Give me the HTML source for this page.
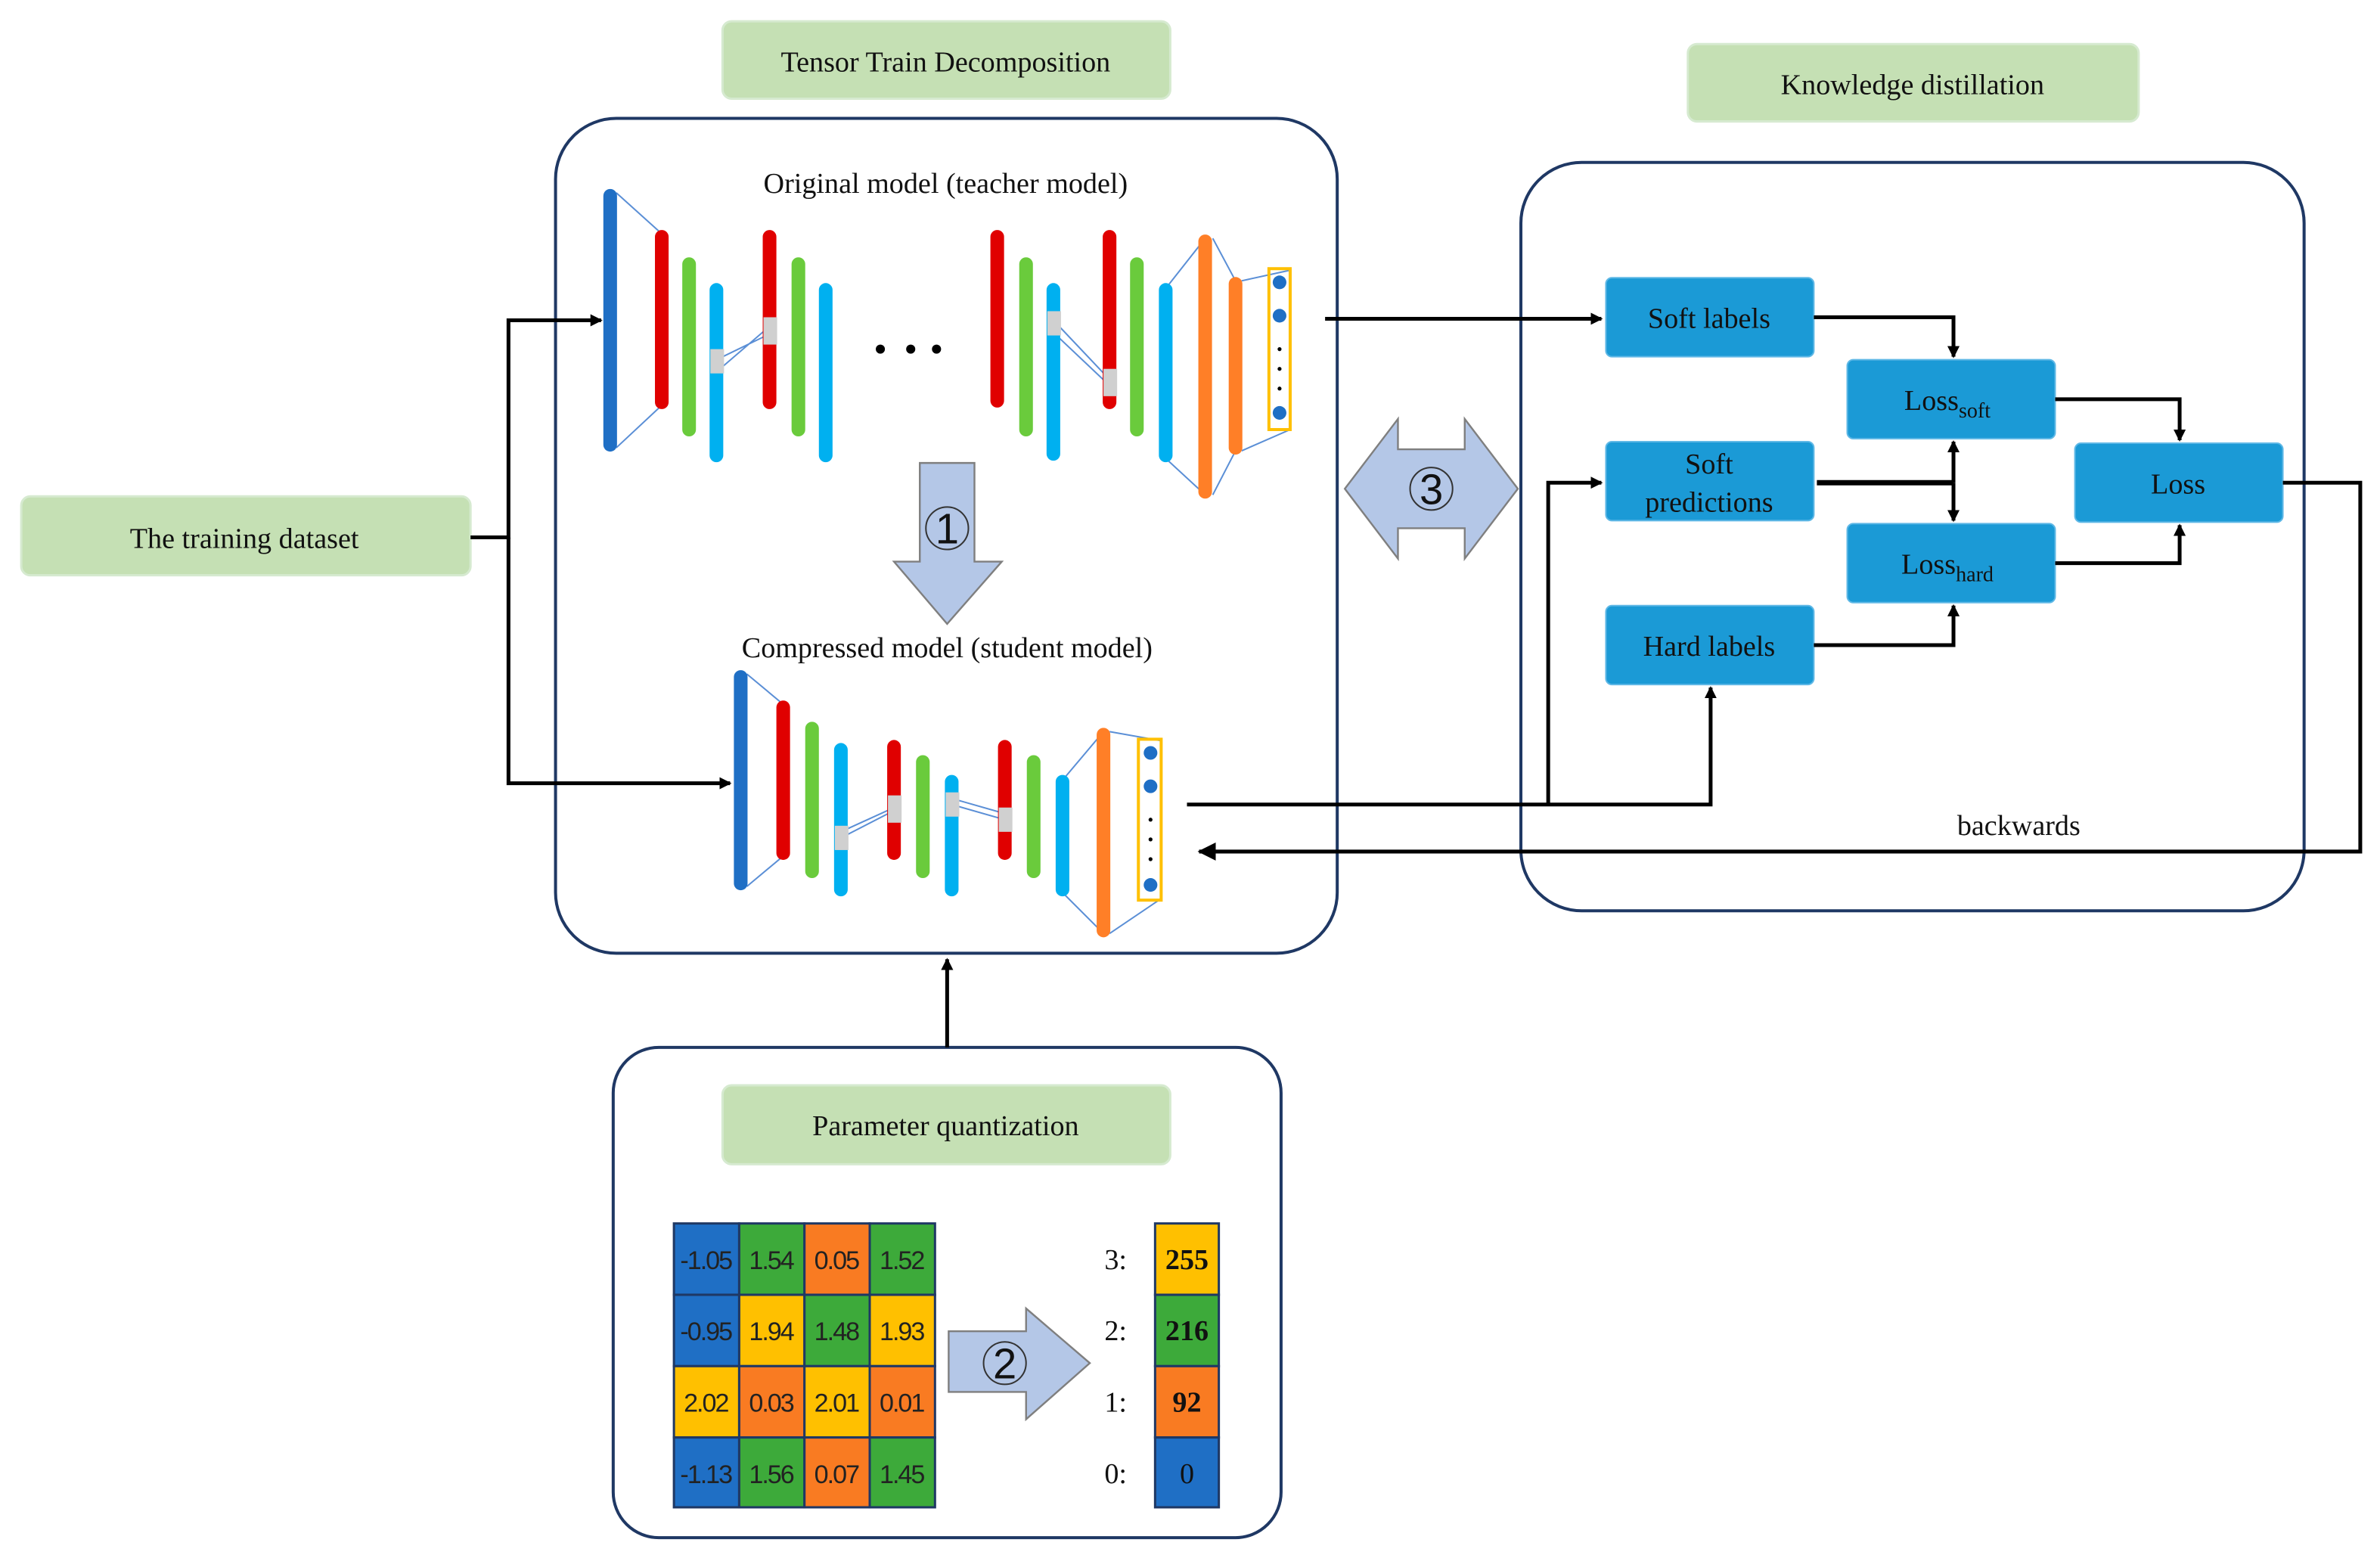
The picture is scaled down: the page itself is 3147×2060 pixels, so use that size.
<!DOCTYPE html>
<html><head><meta charset="utf-8"><style>html,body{margin:0;padding:0;background:#fff}svg{display:block}text{font-family:"Liberation Serif",serif}</style></head><body>
<svg width="3147" height="2060" viewBox="0 0 1568 1026.4" preserveAspectRatio="none" xmlns="http://www.w3.org/2000/svg">
<defs><marker id="a" markerWidth="8" markerHeight="8" refX="7" refY="4" orient="auto" markerUnits="userSpaceOnUse"><path d="M0,0L8,4L0,8z" fill="#000"/></marker>
<marker id="b" markerWidth="12" markerHeight="12" refX="11" refY="6" orient="auto" markerUnits="userSpaceOnUse"><path d="M0,0L12,6L0,12z" fill="#000"/></marker></defs>
<rect width="1568" height="1027" fill="#fff"/>
<!-- labels -->
<g fill="#c5e0b4" stroke="#d6ead0" stroke-width="1.5">
<rect x="476" y="14" width="295" height="51" rx="6"/><rect x="1112" y="29" width="297" height="51" rx="6"/>
<rect x="14" y="327" width="296" height="52" rx="6"/><rect x="476" y="715" width="295" height="52" rx="6"/></g>
<g font-size="19" text-anchor="middle" fill="#111">
<text x="623" y="47">Tensor Train Decomposition</text><text x="1260" y="62">Knowledge  distillation</text>
<text x="161" y="361">The training  dataset</text><text x="623" y="748">Parameter  quantization</text>
<text x="623" y="127">Original  model (teacher model)</text><text x="624" y="433">Compressed model (student model)</text>
<text x="1330" y="550">backwards</text></g>
<g fill="none" stroke="#1f3864" stroke-width="2">
<rect x="366" y="78" width="515" height="550" rx="40"/><rect x="1002" y="107" width="516" height="493" rx="40"/><rect x="404" y="690" width="440" height="323" rx="30"/></g>
<!-- teacher connector lines -->
<g stroke="#5b8fd6" stroke-width="1" fill="none">
<path d="M406,127L436,154M406,295L436,267M472,245L507,215M472,237L507,220M695,212L731,250M695,220L731,254M768,190L794,157M768,302L794,326M799,157L814,185M799,326L814,297M818,185L850,178M818,297L850,283"/>
<path d="M492,444L516,464M492,584L516,564M554,552L589,534M554,548L589,532M627,530L662,540M627,526L662,536M700,514L727,482M700,588L727,615M731,482L765,488M731,615L765,592"/></g>
<g stroke-linecap="round" stroke-width="9">
<g stroke="#1f6fc5"><line x1="402" y1="129" x2="402" y2="293"/><line x1="488" y1="446" x2="488" y2="582"/></g>
<g stroke="#e00000"><line x1="436" y1="156" x2="436" y2="265"/><line x1="507" y1="156" x2="507" y2="265"/><line x1="657" y1="156" x2="657" y2="264"/><line x1="731" y1="156" x2="731" y2="265"/><line x1="516" y1="466" x2="516" y2="562"/><line x1="589" y1="492" x2="589" y2="562"/><line x1="662" y1="492" x2="662" y2="562"/></g>
<g stroke="#6acb3c"><line x1="454" y1="174" x2="454" y2="283"/><line x1="526" y1="174" x2="526" y2="283"/><line x1="676" y1="174" x2="676" y2="283"/><line x1="749" y1="174" x2="749" y2="283"/><line x1="535" y1="480" x2="535" y2="574"/><line x1="608" y1="502" x2="608" y2="574"/><line x1="681" y1="502" x2="681" y2="574"/></g>
<g stroke="#00b0f0"><line x1="472" y1="191" x2="472" y2="300"/><line x1="544" y1="191" x2="544" y2="300"/><line x1="694" y1="191" x2="694" y2="299"/><line x1="768" y1="191" x2="768" y2="300"/><line x1="554" y1="494" x2="554" y2="586"/><line x1="627" y1="515" x2="627" y2="586"/><line x1="700" y1="515" x2="700" y2="586"/></g>
<g stroke="#ff7f27"><line x1="794" y1="159" x2="794" y2="324"/><line x1="814" y1="187" x2="814" y2="295"/><line x1="727" y1="484" x2="727" y2="613"/></g></g>
<g fill="#d0d0d0"><rect x="468" y="230" width="9" height="16"/><rect x="503" y="209" width="9" height="18"/><rect x="690" y="205" width="9" height="16"/><rect x="727" y="243" width="9" height="18"/>
<rect x="550" y="544" width="9" height="16"/><rect x="585" y="524" width="9" height="18"/><rect x="623" y="522" width="9" height="16"/><rect x="658" y="532" width="9" height="16"/></g>
<g fill="none" stroke="#ffc000" stroke-width="2"><rect x="836" y="177" width="14" height="106"/><rect x="750" y="487" width="15" height="106"/></g>
<g fill="#1f6fc5"><circle cx="843" cy="186" r="4.5"/><circle cx="843" cy="208" r="4.5"/><circle cx="843" cy="272" r="4.5"/><circle cx="758" cy="496" r="4.5"/><circle cx="758" cy="518" r="4.5"/><circle cx="758" cy="583" r="4.5"/></g>
<g fill="#000"><circle cx="843" cy="230" r="1.3"/><circle cx="843" cy="243" r="1.3"/><circle cx="843" cy="256" r="1.3"/><circle cx="758" cy="540" r="1.3"/><circle cx="758" cy="553" r="1.3"/><circle cx="758" cy="566" r="1.3"/>
<circle cx="580" cy="230" r="3"/><circle cx="600" cy="230" r="3"/><circle cx="617" cy="230" r="3"/></g>
<!-- block arrows -->
<g fill="#b4c7e7" stroke="#7f7f7f" stroke-width="1.2">
<path d="M606,305H642V370H660L624,411L589,370H606Z"/>
<path d="M886,322L921,276V296H965V276L1000,322L965,368V348H921V368Z"/>
<path d="M625,877H676V862L718,898L676,935V917H625Z"/></g>
<g font-size="28" text-anchor="middle" font-family="Liberation Sans" fill="#111"><text x="624" y="358" style="font-family:'Liberation Sans',sans-serif">1</text><text x="943" y="332" style="font-family:'Liberation Sans',sans-serif">3</text><text x="662" y="908" style="font-family:'Liberation Sans',sans-serif">2</text></g>
<g fill="none" stroke="#333" stroke-width="1"><circle cx="624" cy="348" r="14"/><circle cx="943" cy="322" r="14"/><circle cx="662" cy="898" r="14"/></g>
<!-- blue boxes -->
<g fill="#1b9ad6" stroke="#5fb8e6" stroke-width="1"><rect x="1058" y="183" width="137" height="52" rx="4"/><rect x="1058" y="291" width="137" height="52" rx="4"/><rect x="1058" y="399" width="137" height="52" rx="4"/><rect x="1217" y="237" width="137" height="52" rx="4"/><rect x="1217" y="345" width="137" height="52" rx="4"/><rect x="1367" y="292" width="137" height="52" rx="4"/></g>
<g font-size="19" text-anchor="middle" fill="#111"><text x="1126" y="216">Soft labels</text><text x="1126" y="312">Soft</text><text x="1126" y="337">predictions</text><text x="1126" y="432">Hard labels</text><text x="1435" y="325">Loss</text>
<text x="1283" y="270">Loss<tspan font-size="14" dy="5">soft</tspan></text><text x="1283" y="378">Loss<tspan font-size="14" dy="5">hard</tspan></text></g>
<!-- connectors -->
<g fill="none" stroke="#000" stroke-width="2.5">
<path d="M310,354H335V211H396" marker-end="url(#a)"/><path d="M335,354V516H481" marker-end="url(#a)"/>
<path d="M873,210H1055" marker-end="url(#a)"/>
<path d="M1195,209H1287V235" marker-end="url(#a)"/>
<path d="M1197,318H1287"  stroke-width="3.5"/><path d="M1287,318V291" marker-end="url(#a)"/><path d="M1287,318V343" marker-end="url(#a)"/>
<path d="M1195,425H1287V399" marker-end="url(#a)"/>
<path d="M1354,263H1436V290" marker-end="url(#a)"/><path d="M1354,371H1436V346" marker-end="url(#a)"/>
<path d="M1504,318H1555V561H790" marker-end="url(#b)"/>
<path d="M782,530H1127V453" marker-end="url(#a)"/><path d="M1020,530V318H1055" marker-end="url(#a)"/>
<path d="M624,690V632" marker-end="url(#a)"/></g>
<!-- grid -->
<g stroke="#1f3864" stroke-width="1.5">
<rect x="444" y="806" width="43" height="47" fill="#1f6fc5"/><rect x="487" y="806" width="43" height="47" fill="#3daa3a"/><rect x="530" y="806" width="43" height="47" fill="#f97b22"/><rect x="573" y="806" width="43" height="47" fill="#3daa3a"/>
<rect x="444" y="853" width="43" height="47" fill="#1f6fc5"/><rect x="487" y="853" width="43" height="47" fill="#ffc000"/><rect x="530" y="853" width="43" height="47" fill="#3daa3a"/><rect x="573" y="853" width="43" height="47" fill="#ffc000"/>
<rect x="444" y="900" width="43" height="47" fill="#ffc000"/><rect x="487" y="900" width="43" height="47" fill="#f97b22"/><rect x="530" y="900" width="43" height="47" fill="#ffc000"/><rect x="573" y="900" width="43" height="47" fill="#f97b22"/>
<rect x="444" y="947" width="43" height="46" fill="#1f6fc5"/><rect x="487" y="947" width="43" height="46" fill="#3daa3a"/><rect x="530" y="947" width="43" height="46" fill="#f97b22"/><rect x="573" y="947" width="43" height="46" fill="#3daa3a"/>
<rect x="761" y="806" width="42" height="47" fill="#ffc000"/><rect x="761" y="853" width="42" height="47" fill="#3daa3a"/><rect x="761" y="900" width="42" height="47" fill="#f97b22"/><rect x="761" y="947" width="42" height="46" fill="#1f6fc5"/></g>
<g font-size="17" text-anchor="middle" fill="#222" style="font-family:'Liberation Sans',sans-serif" letter-spacing="-1">
<text x="465" y="836" style="font-family:'Liberation Sans',sans-serif">-1.05</text><text x="508" y="836" style="font-family:'Liberation Sans',sans-serif">1.54</text><text x="551" y="836" style="font-family:'Liberation Sans',sans-serif">0.05</text><text x="594" y="836" style="font-family:'Liberation Sans',sans-serif">1.52</text>
<text x="465" y="883" style="font-family:'Liberation Sans',sans-serif">-0.95</text><text x="508" y="883" style="font-family:'Liberation Sans',sans-serif">1.94</text><text x="551" y="883" style="font-family:'Liberation Sans',sans-serif">1.48</text><text x="594" y="883" style="font-family:'Liberation Sans',sans-serif">1.93</text>
<text x="465" y="930" style="font-family:'Liberation Sans',sans-serif">2.02</text><text x="508" y="930" style="font-family:'Liberation Sans',sans-serif">0.03</text><text x="551" y="930" style="font-family:'Liberation Sans',sans-serif">2.01</text><text x="594" y="930" style="font-family:'Liberation Sans',sans-serif">0.01</text>
<text x="465" y="977" style="font-family:'Liberation Sans',sans-serif">-1.13</text><text x="508" y="977" style="font-family:'Liberation Sans',sans-serif">1.56</text><text x="551" y="977" style="font-family:'Liberation Sans',sans-serif">0.07</text><text x="594" y="977" style="font-family:'Liberation Sans',sans-serif">1.45</text></g>
<g font-size="19" text-anchor="middle" fill="#111"><text x="735" y="836">3:</text><text x="735" y="883">2:</text><text x="735" y="930">1:</text><text x="735" y="977">0:</text>
<text x="782" y="836" font-weight="bold">255</text><text x="782" y="883" font-weight="bold">216</text><text x="782" y="930" font-weight="bold">92</text><text x="782" y="977">0</text></g>
</svg>
</body></html>
